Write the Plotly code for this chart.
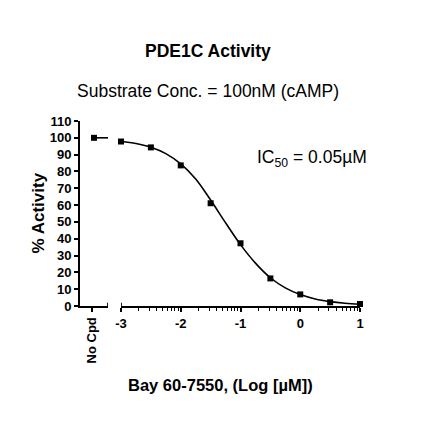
import numpy as np
import plotly.graph_objects as go

# measured points (log uM) and % activity
log_conc = [-3, -2.5, -2, -1.5, -1, -0.5, 0, 0.5, 1]
activity = [97.8, 94.3, 83.6, 61.1, 37.3, 16.4, 6.9, 2.2, 1.2]

# control (no compound)
no_cpd_label = "No Cpd"
no_cpd_value = 100

# fitted curve
fit_x = [-3, -2.75, -2.5, -2.25, -2, -1.75, -1.5, -1.25, -1, -0.75, -0.5, -0.25, 0, 0.25, 0.5, 0.75, 1]
fit_y = [98, 96.6, 94.4, 90.6, 84.5, 75.5, 63, 49.5, 36.5, 25.5, 16.8, 10.8, 6.8, 4.2, 2.6, 1.6, 1.0]

x_ticks = [-3, -2, -1, 0, 1]
x_ticklabels = ["-3", "-2", "-1", "0", "1"]
y_ticks = list(range(0, 111, 10))

title = "PDE1C Activity"
subtitle = "Substrate Conc. = 100nM (cAMP)"
ic50_text = "IC<sub>50</sub> = 0.05\u00b5M"

FONT = "Liberation Sans, Arial, sans-serif"

# log-spaced minor ticks between decades
minor_vals = [d + np.log10(k) for d in x_ticks[:-1] for k in range(2, 10)]

fig = go.Figure()

fig.add_trace(go.Scatter(
    x=fit_x, y=fit_y, xaxis="x2", yaxis="y",
    mode="lines", line=dict(color="black", width=1.6, shape="spline"),
    hoverinfo="skip", cliponaxis=False,
))
fig.add_trace(go.Scatter(
    x=log_conc, y=activity, xaxis="x2", yaxis="y",
    mode="markers", marker=dict(symbol="square", size=6, color="black"),
    cliponaxis=False,
))
fig.add_trace(go.Scatter(
    x=[0.5, 1.0], y=[no_cpd_value, no_cpd_value], xaxis="x", yaxis="y",
    mode="lines", line=dict(color="black", width=1.6),
    cliponaxis=False,
))
fig.add_trace(go.Scatter(
    x=[0.5], y=[no_cpd_value], xaxis="x", yaxis="y",
    mode="markers", marker=dict(symbol="square", size=6, color="black"),
    cliponaxis=False,
))

tickfont = dict(family=FONT, size=13, color="black", weight="bold")

fig.update_layout(
    width=432, height=432,
    margin=dict(l=80, r=72, t=121, b=126),
    paper_bgcolor="white", plot_bgcolor="white",
    showlegend=False,
    font=dict(family=FONT, color="black"),
    xaxis=dict(
        domain=[0, 0.1], range=[0, 1], anchor="y",
        tickmode="array", tickvals=[0.43], ticktext=[no_cpd_label],
        tickangle=-90, tickfont=tickfont,
        showline=True, linecolor="black", linewidth=2,
        ticks="outside", ticklen=4, tickwidth=1.5, tickcolor="black",
        showgrid=False, zeroline=False,
    ),
    xaxis2=dict(
        domain=[41 / 280, 1], range=[-3, 1], anchor="y",
        tickmode="array", tickvals=x_ticks, ticktext=x_ticklabels,
        tickfont=tickfont,
        showline=True, linecolor="black", linewidth=2,
        ticks="outside", ticklen=4, tickwidth=1.5, tickcolor="black",
        minor=dict(tickmode="array", tickvals=minor_vals, ticks="outside",
                   ticklen=2.5, tickwidth=1.2, tickcolor="black"),
        showgrid=False, zeroline=False,
    ),
    yaxis=dict(
        range=[0, 110], anchor="x",
        tickmode="array", tickvals=y_ticks,
        tickfont=tickfont,
        showline=True, linecolor="black", linewidth=2,
        ticks="outside", ticklen=4, tickwidth=1.5, tickcolor="black",
        showgrid=False, zeroline=False,
    ),
    shapes=[
        # axis break caps
        dict(type="line", xref="x", yref="y", x0=1, x1=1, y0=-2, y1=2,
             line=dict(color="black", width=1.8)),
        dict(type="line", xref="x2", yref="y", x0=-3, x1=-3, y0=-2, y1=2,
             line=dict(color="black", width=1.8)),
    ],
    annotations=[
        dict(text=title, xref="paper", yref="paper", x=0.457, y=1 + 70 / 185,
             showarrow=False, xanchor="center", yanchor="middle",
             font=dict(family=FONT, size=17.5, weight="bold")),
        dict(text=subtitle, xref="paper", yref="paper", x=0.457, y=1 + 30 / 185,
             showarrow=False, xanchor="center", yanchor="middle",
             font=dict(family=FONT, size=17.5)),
        dict(text=ic50_text, xref="x2", yref="y", x=-0.76, y=87.6,
             showarrow=False, xanchor="left", yanchor="middle",
             font=dict(family=FONT, size=17.5)),
        dict(text="Bay 60-7550, (Log [\u00b5M])", xref="paper", yref="paper",
             x=0.5, y=-79 / 185, showarrow=False, xanchor="center", yanchor="middle",
             font=dict(family=FONT, size=16.5, weight="bold")),
        dict(text="% Activity", xref="paper", yref="paper",
             x=-42 / 280, y=0.5, showarrow=False, xanchor="center", yanchor="middle",
             textangle=-90, font=dict(family=FONT, size=17, weight="bold")),
    ],
)

fig.write_html("out.html", config={"displayModeBar": False},
               post_script="document.body.style.margin='0px';")
